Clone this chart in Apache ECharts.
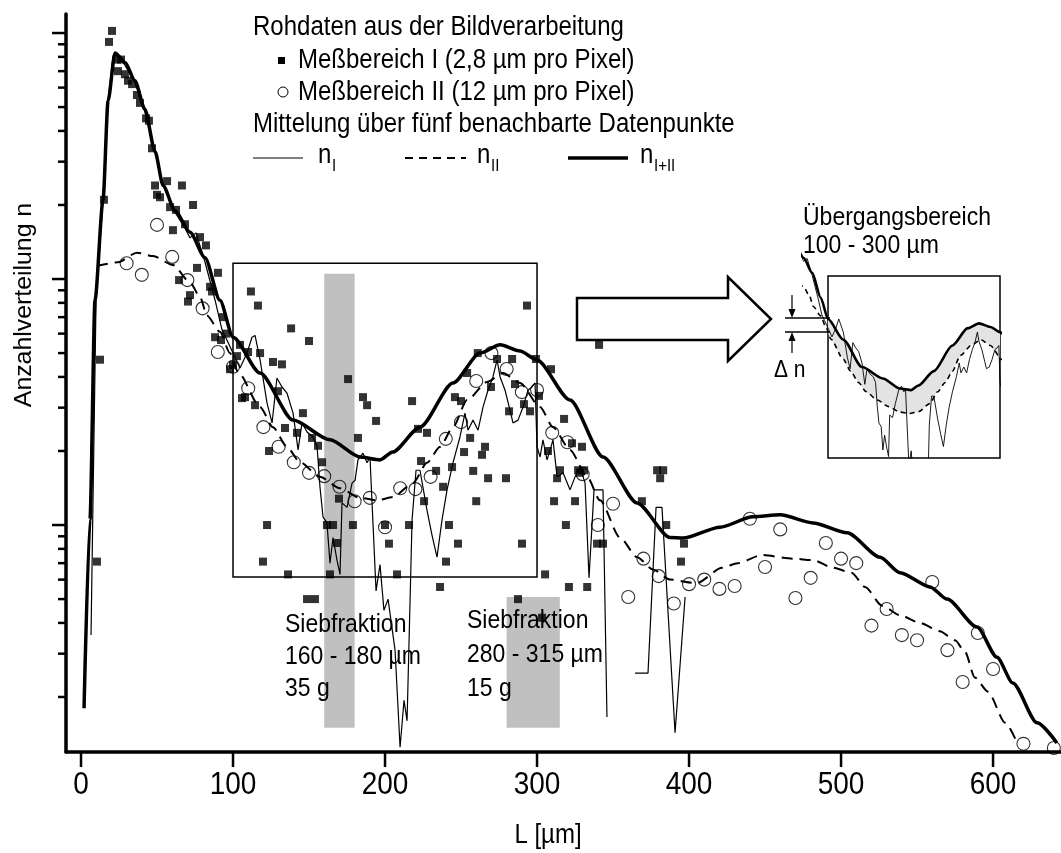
<!DOCTYPE html>
<html>
<head>
<meta charset="utf-8">
<script src="https://cdn.jsdelivr.net/npm/echarts@6/dist/echarts.min.js"></script>
<style>
  html, body { margin: 0; padding: 0; background: #fff; }
  #chart { width: 1061px; height: 853px; }
</style>
</head>
<body>
<div id="chart"></div>
<script>
const FONT = 'Liberation Sans, Arial, sans-serif'
const TEXT_STRETCH = 1.15

// Rohdaten Meßbereich I (2,8 µm pro Pixel): [L in µm, n]
const rawI = [
  [10.5, 0.71], [12.5, 4.7], [15.1, 21], [18.4, 92], [20.4, 102], [23.7, 78], [26.3, 78], [24.3, 70],
  [28.9, 68], [30.9, 64], [33.6, 62], [36.8, 56], [38.8, 52], [42.8, 45], [44.7, 44], [46.7, 34],
  [48.7, 24], [50, 22], [56.6, 25], [66.4, 24], [52, 21.5], [58.6, 19.6], [62.5, 19.1], [73.7, 20],
  [68.4, 16.7], [60.5, 15.8], [78.3, 14.8], [82.2, 13.7], [76.3, 11.1], [90.1, 10.6], [64.5, 9.9],
  [84.9, 9.3], [71.7, 8.6], [70.4, 8.1], [86.2, 8.9], [93.4, 7.0], [95.4, 6.0], [88.2, 5.8], [92.1, 5.65],
  [104.6, 5.4], [102.6, 4.86], [98, 4.3], [100, 4.47], [111.8, 8.9], [116.4, 7.8], [138.2, 6.3],
  [150, 5.6], [109.9, 5.05], [117.8, 5.0], [126.3, 4.6], [132.2, 4.5], [175.7, 3.92], [105.9, 3.28],
  [107.9, 3.31], [114.5, 3.07], [129.6, 3.5], [134.2, 2.48], [146, 2.85], [142.1, 2.37], [152, 2.26],
  [155.9, 2.1], [158.6, 1.8], [123.7, 2.0], [169.7, 1.28], [182.2, 2.26], [185.5, 3.31], [188.2, 3.07],
  [194.1, 2.65], [122.4, 1.0], [161.8, 1.0], [165.8, 1.0], [178.9, 1.0], [168.4, 0.845], [119.7, 0.71],
  [136.2, 0.63], [148.7, 0.5], [153.9, 0.5], [163.8, 0.63], [217.8, 3.19], [221.7, 2.46], [227.6, 2.37],
  [223.7, 1.82], [225.7, 1.25], [233.6, 1.66], [238.2, 1.43], [244.1, 1.72], [246, 3.31], [250, 3.19],
  [252, 1.98], [254, 4.15], [256, 2.26], [258, 1.66], [260, 1.25], [261, 5.0], [263.8, 1.93], [265.8, 2.08],
  [267.8, 1.55], [269.7, 3.64], [273.7, 4.73], [279.6, 1.55], [281.6, 2.9], [283.6, 4.73], [285.5, 3.74],
  [291.4, 3.1], [293.4, 7.8], [295.4, 2.9], [299.3, 4.73], [301.3, 3.35], [305.3, 0.63], [290.1, 0.84],
  [248, 0.84], [242.1, 1.0], [240.1, 0.71], [236.2, 0.56], [215.8, 1.0], [207.9, 0.63], [202.6, 0.84],
  [200, 1.0], [309.2, 4.3], [317.8, 2.7], [323, 2.15], [329.6, 2.08], [307.2, 2.0], [315.1, 1.67],
  [313.2, 1.55], [327, 1.67], [331, 1.67], [311.2, 1.25], [325, 1.25], [319, 1.0], [340.8, 5.4],
  [369, 1.25], [379, 1.67], [383, 1.67], [381, 1.55], [385, 1.0], [396.7, 0.84], [394.7, 0.71],
  [339.5, 0.84], [343.4, 0.84], [321, 0.56], [333, 0.56], [287.5, 0.5], [303.3, 0.42], [328.3, 1.63]
]

// Rohdaten Meßbereich II (12 µm pro Pixel)
const rawII = [
  [30, 11.6], [40, 10.4], [50, 16.6], [60, 12.3], [70, 9.9], [80, 7.6], [90, 5.05], [100, 4.4],
  [110, 3.6], [120, 2.5], [130, 2.08], [140, 1.8], [150, 1.63], [160, 1.58], [170, 1.43], [180, 1.25],
  [190, 1.29], [200, 0.98], [210, 1.41], [220, 1.4], [230, 1.57], [240, 2.24], [250, 2.62], [260, 3.85],
  [270, 5.0], [280, 4.31], [290, 3.47], [300, 3.54], [310, 2.37], [320, 2.17], [330, 1.61], [340, 1.0],
  [350, 1.22], [360, 0.51], [370, 0.73], [380, 0.62], [390, 0.48], [400, 0.575], [410, 0.6], [420, 0.55],
  [430, 0.565], [440, 1.06], [450, 0.675], [460, 0.96], [470, 0.505], [480, 0.61], [490, 0.845],
  [500, 0.73], [510, 0.7], [520, 0.39], [530, 0.456], [540, 0.357], [550, 0.34], [560, 0.587],
  [570, 0.31], [580, 0.23], [590, 0.364], [600, 0.26], [620, 0.129], [640, 0.124]
]

// Mittelung über fünf Datenpunkte: n_I
const nI = [
  [6.6, 0.357], [7.9, 1.26], [9.9, 8.2], [14.5, 21], [17.8, 53], [21.1, 81], [24.3, 81], [28.9, 74],
  [35.5, 63], [42.1, 47.7], [48.7, 32.8], [53.9, 24], [61.8, 18.7], [68.4, 16.1], [71.7, 14.7],
  [75.7, 15.4], [81.6, 11.7], [88.2, 8.2], [92.8, 6.2], [96, 5.65], [100, 5.0], [104.6, 4.35],
  [109.2, 5.0], [112.5, 5.8], [114.5, 5.9], [117.8, 4.69], [122.4, 3.13], [125.7, 2.6], [128.9, 3.96],
  [132.2, 3.64], [135.5, 3.44], [139.5, 2.85], [142.8, 2.02], [145.4, 2.6], [148.7, 2.39], [152.6, 2.28],
  [155.3, 2.08], [157.2, 1.43], [159.2, 1.08], [161.8, 1.02], [163.8, 0.70], [165.8, 0.89], [168.4, 0.72],
  [170.4, 0.63], [171.7, 1.23], [175, 1.18], [178.3, 1.48], [180.3, 1.52], [182.2, 1.84], [185.5, 1.96],
  [188.2, 1.79], [190.1, 1.89], [194.1, 0.54], [196.7, 0.69], [199.3, 0.45], [202, 0.5], [206.6, 0.31],
  [209.9, 0.125], [212.5, 0.194], [214.5, 0.16], [217.8, 1.05], [220.4, 1.67], [223, 1.67], [227.6, 1.15],
  [230.9, 0.91], [234.2, 0.74], [237.5, 1.05], [240.8, 1.39], [244.7, 1.79], [249.3, 2.28], [252.6, 2.85],
  [254.6, 2.43], [257.9, 2.67], [261.2, 2.43], [264.5, 3.02], [267.8, 3.54], [271, 4.0], [273.7, 4.69],
  [275.7, 4.0], [278.9, 3.54], [282.2, 2.93], [284.2, 2.6], [287.5, 2.67], [290.8, 3.02], [294.1, 3.54],
  [296.7, 3.64], [298.7, 3.78], [300, 2.08], [302, 1.89], [303.9, 2.22], [306.6, 1.84], [308.6, 2.02],
  [310.5, 2.22], [313.2, 1.57], [317.1, 1.63], [321.7, 1.39], [325, 1.57], [328.3, 1.72], [331.6, 1.48],
  [334.2, 0.61], [337.5, 1.39], [343.4, 1.39], [346, 0.166], [355, null], [364.5, 0.25], [373, 0.25],
  [378.3, 1.18], [382.2, 1.18], [390.8, 0.143], [397.4, 0.51]
]

// n_II
const nII = [
  [10.5, 11.3], [24.3, 11.7], [36.8, 12.8], [47.4, 12.4], [60.5, 11.4], [71.7, 9.7], [78.3, 8.45],
  [82.9, 7.1], [91.4, 6.1], [98, 5.0], [103.3, 4.19], [117.8, 3.02], [126.3, 2.5], [135.5, 2.08],
  [144, 1.8], [157.2, 1.57], [170.4, 1.41], [183.6, 1.29], [194.7, 1.26], [205.3, 1.3], [218.4, 1.48],
  [227.6, 1.79], [236.2, 2.08], [244.7, 2.5], [254, 3.22], [267, 3.81], [277.6, 4.15], [288.8, 3.78],
  [302, 3.02], [310.5, 2.5], [321.7, 2.02], [333, 1.57], [341.4, 1.26], [354.6, 0.89], [365.8, 0.74],
  [376.3, 0.66], [387.5, 0.6], [405, 0.58], [421.7, 0.67], [432, 0.7], [448, 0.755], [468.4, 0.73],
  [481.6, 0.72], [494.7, 0.67], [507, 0.64], [515.8, 0.56], [527, 0.47], [538.8, 0.43], [552, 0.4],
  [565, 0.37], [575, 0.34], [581.6, 0.305], [588, 0.24], [596.7, 0.21], [608, 0.157], [616.4, 0.128]
]

// n_I+II
const nSum = [
  [2, 0.18], [5.9, 1.05], [9.2, 8.2], [14.5, 21], [17.8, 53], [22.4, 83], [28.9, 76], [35.5, 64],
  [42, 49], [48.7, 33], [54, 24], [61.8, 19], [71.7, 15.5], [81.6, 12.2], [91.4, 8.2], [100, 5.8],
  [117.8, 4.15], [139.5, 2.67], [163.8, 2.22], [183.6, 1.89], [196.7, 1.84], [205, 1.98], [223, 2.5],
  [244.7, 3.78], [262.5, 5.0], [275.7, 5.4], [288.8, 5.1], [300, 4.69], [321.7, 3.22], [343.4, 1.89],
  [365.8, 1.23], [387.5, 0.89], [396, 0.885], [420.4, 0.98], [442, 1.08], [460, 1.1], [481.6, 1.02],
  [504, 0.93], [525.7, 0.74], [538.8, 0.64], [558.6, 0.56], [569.7, 0.5], [589.5, 0.385], [602.6, 0.29],
  [613, 0.228], [629, 0.157], [642, 0.13]
]

// Siebfraktionen [von, bis] in µm und Höhe der grauen Balken
const sieveBands = [[160, 180], [280, 315]]
const sieveTop = [10.5, 0.51]
const sieveBottom = 0.15
// Übergangsbereich 100 - 300 µm: [L von, L bis, n unten, n oben]
const transitionBox = [100, 300, 0.615, 11.6]

const xTicks = [0, 100, 200, 300, 400, 500, 600]
const yMajor = [1, 10, 100]
const yMinor = [0.2, 0.3, 0.4, 0.5, 0.6, 0.7, 0.8, 0.9, 2, 3, 4, 5, 6, 7, 8, 9, 20, 30, 40, 50, 60, 70, 80, 90]

const xMin = -9.87
const xMax = 644.7
const yMin = 0.1195
const yMax = 119.5

function txt (x, y, text, size, opts) {
  opts = opts || {}
  const align = opts.align || 'left'
  return {
    type: 'text', x: x, y: y, z: 100,
    rotation: opts.rotation || 0,
    scaleY: opts.rotation ? 1 : TEXT_STRETCH,
    scaleX: opts.rotation ? 1.08 : 1,
    style: {
      text: text, fontSize: size, fontFamily: FONT, fill: '#000',
      lineHeight: opts.lineHeight || null,
      align: align, verticalAlign: 'middle', textAlign: align, textVerticalAlign: 'middle'
    }
  }
}
function seg (x1, y1, x2, y2, w, dash) {
  return {
    type: 'line', z: 100,
    shape: { x1: x1, y1: y1, x2: x2, y2: y2 },
    style: { stroke: '#000', lineWidth: w, lineDash: dash || null }
  }
}

const chart = echarts.init(document.getElementById('chart'))

const option = {
  animation: false,
  backgroundColor: '#fff',
  textStyle: { fontFamily: FONT, color: '#000' },
  grid: [
    { left: 66, top: 14, right: 0, bottom: 101 },
    { left: 803, top: 250, width: 197, height: 208 }
  ],
  xAxis: [
    {
      gridIndex: 0, type: 'value', min: xMin, max: xMax,
      axisLine: { onZero: false, lineStyle: { color: '#000', width: 3.5 } },
      axisTick: { show: false }, axisLabel: { show: false }, splitLine: { show: false }
    },
    { gridIndex: 1, type: 'value', min: 70.9, max: 300, show: false }
  ],
  yAxis: [
    {
      gridIndex: 0, type: 'log', logBase: 10, min: yMin, max: yMax,
      axisLine: { show: true, onZero: false, lineStyle: { color: '#000', width: 3.5 } },
      axisTick: { show: false }, axisLabel: { show: false }, splitLine: { show: false }
    },
    { gridIndex: 1, type: 'log', logBase: 10, min: 0.615, max: 17.65, show: false }
  ],
  series: [
    {
      // graue Balken der Siebfraktionen
      type: 'line', xAxisIndex: 0, yAxisIndex: 0, data: [], silent: true, z: 1,
      markArea: {
        silent: true,
        label: { show: false },
        itemStyle: { color: '#c0c0c0' },
        data: sieveBands.map((b, i) => [{ coord: [b[0], sieveTop[i]] }, { coord: [b[1], sieveBottom] }])
      }
    },
    {
      // Rahmen Übergangsbereich
      type: 'line', xAxisIndex: 0, yAxisIndex: 0, data: [], silent: true, z: 2,
      markArea: {
        silent: true,
        label: { show: false },
        itemStyle: { color: 'rgba(0,0,0,0)', borderColor: '#000', borderWidth: 1.5 },
        data: [[{ coord: [transitionBox[0], transitionBox[3]] }, { coord: [transitionBox[1], transitionBox[2]] }]]
      }
    },
    {
      name: 'n_I', type: 'line', xAxisIndex: 0, yAxisIndex: 0, data: nI, z: 3,
      symbol: 'none', connectNulls: false,
      lineStyle: { color: '#000', width: 1.2 }
    },
    {
      name: 'n_II', type: 'line', xAxisIndex: 0, yAxisIndex: 0, data: nII, z: 3,
      symbol: 'none', smooth: 0.25, smoothMonotone: 'x',
      lineStyle: { color: '#000', width: 2, type: [11, 7] }
    },
    {
      name: 'n_I+II', type: 'line', xAxisIndex: 0, yAxisIndex: 0, data: nSum, z: 4,
      symbol: 'none', smooth: 0.25, smoothMonotone: 'x',
      lineStyle: { color: '#000', width: 3.5 }
    },
    {
      name: 'Meßbereich I', type: 'scatter', xAxisIndex: 0, yAxisIndex: 0, data: rawI, z: 5,
      symbol: 'rect', symbolSize: 8,
      itemStyle: { color: '#000' }
    },
    {
      name: 'Meßbereich II', type: 'scatter', xAxisIndex: 0, yAxisIndex: 0, data: rawII, z: 5,
      symbol: 'circle', symbolSize: 13,
      itemStyle: { color: 'rgba(255,255,255,0)', borderColor: '#000', borderWidth: 1.1 }
    },
    {
      // Teilstriche y-Achse (logarithmisch)
      type: 'custom', xAxisIndex: 0, yAxisIndex: 0, silent: true, z: 6,
      data: yMajor.map(v => [xMin, v, 1]).concat(yMinor.map(v => [xMin, v, 0])),
      renderItem (params, api) {
        const p = api.coord([api.value(0), api.value(1)])
        const len = api.value(2) ? 14 : 8
        return {
          type: 'line',
          shape: { x1: p[0] - len, y1: p[1], x2: p[0], y2: p[1] },
          style: { stroke: '#000', lineWidth: 2.5 }
        }
      }
    },
    {
      // Teilstriche und Beschriftung x-Achse
      type: 'custom', xAxisIndex: 0, yAxisIndex: 0, silent: true, z: 6,
      data: xTicks.map(v => [v, yMin]),
      renderItem (params, api) {
        const p = api.coord([api.value(0), api.value(1)])
        return {
          type: 'group',
          children: [
            {
              type: 'line',
              shape: { x1: p[0], y1: p[1], x2: p[0], y2: p[1] + 15 },
              style: { stroke: '#000', lineWidth: 2.5 }
            },
            {
              type: 'text', x: p[0], y: p[1] + 33, scaleY: TEXT_STRETCH,
              style: {
                text: String(api.value(0)), fontSize: 28, fontFamily: FONT, fill: '#000',
                align: 'center', verticalAlign: 'middle', textAlign: 'center', textVerticalAlign: 'middle'
              }
            }
          ]
        }
      }
    },
    {
      // Inset: Fläche zwischen n_I+II und n_II
      type: 'custom', xAxisIndex: 1, yAxisIndex: 1, silent: true, z: 1,
      data: [[transitionBox[0], transitionBox[3]]],
      renderItem (params, api) {
        const upper = nSum.filter(p => p[0] >= 98 && p[0] <= 302).map(p => api.coord(p))
        const lower = nII.filter(p => p[0] >= 98 && p[0] <= 302).map(p => api.coord(p)).reverse()
        const tl = api.coord([transitionBox[0], transitionBox[3]])
        const br = api.coord([transitionBox[1], transitionBox[2]])
        return {
          type: 'polygon',
          shape: { points: upper.concat(lower), smooth: 0.15 },
          style: { fill: '#e3e3e3' },
          clipPath: { type: 'rect', shape: { x: tl[0], y: tl[1], width: br[0] - tl[0], height: br[1] - tl[1] } }
        }
      }
    },
    {
      type: 'line', xAxisIndex: 1, yAxisIndex: 1, data: [], silent: true, z: 2,
      markArea: {
        silent: true,
        label: { show: false },
        itemStyle: { color: 'rgba(0,0,0,0)', borderColor: '#000', borderWidth: 1.5 },
        data: [[{ coord: [transitionBox[0], transitionBox[3]] }, { coord: [transitionBox[1], transitionBox[2]] }]]
      }
    },
    {
      type: 'line', xAxisIndex: 1, yAxisIndex: 1, data: nI, z: 3, silent: true,
      symbol: 'none', connectNulls: false,
      lineStyle: { color: '#000', width: 0.9 }
    },
    {
      type: 'line', xAxisIndex: 1, yAxisIndex: 1, data: nII, z: 3, silent: true,
      symbol: 'none', smooth: 0.25, smoothMonotone: 'x',
      lineStyle: { color: '#000', width: 1.6, type: [5, 4] }
    },
    {
      type: 'line', xAxisIndex: 1, yAxisIndex: 1, data: nSum, z: 4, silent: true,
      symbol: 'none', smooth: 0.25, smoothMonotone: 'x',
      lineStyle: { color: '#000', width: 2.6 }
    }
  ],
  graphic: [
    // Legende
    txt(253, 27, 'Rohdaten aus der Bildverarbeitung', 24),
    { type: 'rect', z: 100, shape: { x: 278, y: 57, width: 7, height: 7 }, style: { fill: '#000' } },
    txt(298, 60, 'Meßbereich I (2,8 µm pro Pixel)', 24),
    { type: 'circle', z: 100, shape: { cx: 283, cy: 92, r: 5 }, style: { fill: 'none', stroke: '#000', lineWidth: 1 } },
    txt(298, 92, 'Meßbereich II (12 µm pro Pixel)', 24),
    txt(253, 124, 'Mittelung über fünf benachbarte Datenpunkte', 24),
    seg(253, 158, 303, 158, 1.2),
    txt(318, 155, 'n', 24),
    txt(332, 166, 'I', 15),
    seg(405, 158, 466, 158, 2, [8, 6]),
    txt(477, 155, 'n', 24),
    txt(491, 166, 'II', 15),
    seg(568, 158, 628, 158, 3.5),
    txt(640, 155, 'n', 24),
    txt(654, 166, 'I+II', 15),
    // Achsentitel
    txt(25, 305, 'Anzahlverteilung n', 23, { rotation: Math.PI / 2, align: 'center' }),
    txt(548, 835, 'L [µm]', 24, { align: 'center' }),
    // Siebfraktionen
    txt(285, 657, 'Siebfraktion\n160 - 180 µm\n35 g', 23, { lineHeight: 28 }),
    txt(467, 655, 'Siebfraktion\n280 - 315 µm\n15 g', 23, { lineHeight: 29.5 }),
    // Übergangsbereich
    txt(803, 232, 'Übergangsbereich\n100 - 300 µm', 23, { lineHeight: 24.5 }),
    // Pfeil
    {
      type: 'polygon', z: 100,
      shape: { points: [[577, 298], [728, 298], [728, 277], [771, 319], [728, 361], [728, 340], [577, 340]] },
      style: { fill: '#fff', stroke: '#000', lineWidth: 2.5 }
    },
    // Delta n
    seg(785, 318, 830, 318, 1.5),
    seg(785, 332, 830, 332, 1.5),
    seg(792, 295, 792, 311, 1.2),
    { type: 'polygon', z: 100, shape: { points: [[788.5, 309], [795.5, 309], [792, 318]] }, style: { fill: '#000' } },
    seg(792, 340, 792, 353, 1.2),
    { type: 'polygon', z: 100, shape: { points: [[788.5, 341], [795.5, 341], [792, 332]] }, style: { fill: '#000' } },
    txt(774, 370, 'Δ n', 21)
  ]
}

chart.setOption(option)
</script>
</body>
</html>
